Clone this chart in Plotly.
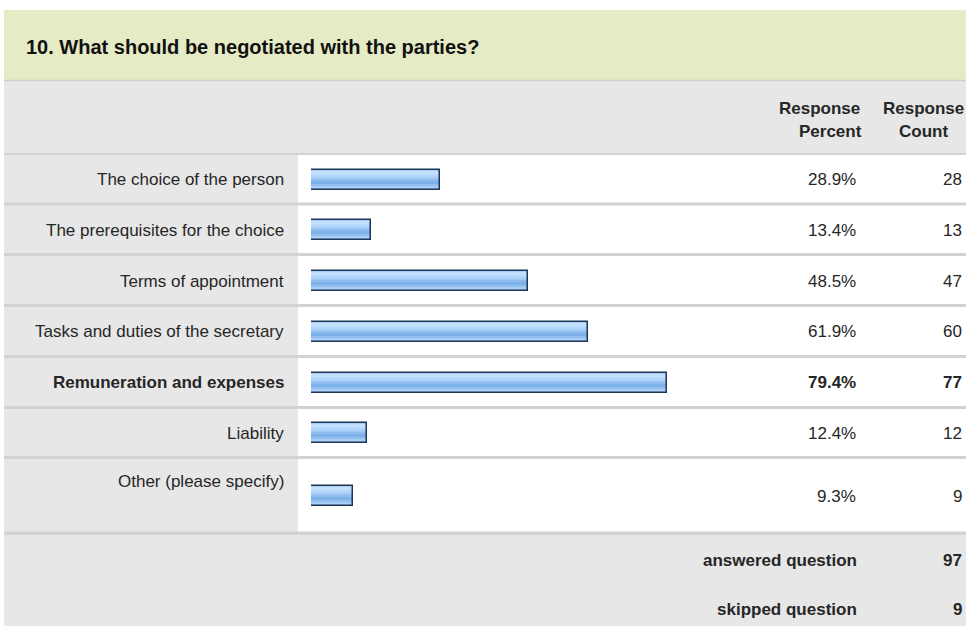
import plotly.graph_objects as go

# ---- data ----
answer_choices = [
    "The choice of the person",
    "The prerequisites for the choice",
    "Terms of appointment",
    "Tasks and duties of the secretary",
    "Remuneration and expenses",
    "Liability",
    "Other (please specify)",
]
response_percent = [28.9, 13.4, 48.5, 61.9, 79.4, 12.4, 9.3]
response_count = [28, 13, 47, 60, 77, 12, 9]
bold_rows = [False, False, False, False, True, False, False]
question_title = "10. What should be negotiated with the parties?"
answered_question = 97
skipped_question = 9

# ---- layout constants (pixels) ----
W, H = 966, 626
ROW_CENTERS = [179.5, 230, 281, 331.5, 382.5, 433, 496]
LABEL_Y = [179.5, 230, 281, 331.5, 382.5, 433, 481]
SEPARATORS = [204, 254.5, 305.5, 356.5, 407.5, 457.5]
FONT = "Arial, Liberation Sans, sans-serif"
FS = 17
TXT = "#262626"
GRAY = "#e7e7e7"
LINE = "#d2d2d2"
# gradient bands inside each bar: (offset from centre, thickness, colour)
BAR_BANDS = [
    (-10, 20, "#a8cff7"),
    (-9, 3.5, "#c4e0ff"),
    (-6, 3.5, "#b6d7fd"),
    (-3, 2.5, "#a3cbf6"),
    (-1, 2.5, "#8fbcef"),
    (1, 3.5, "#7fb1e9"),
    (4, 2.5, "#92bef0"),
    (6, 3, "#a6cdf6"),
]


def px(x):
    return x / W


fig = go.Figure()

for off, th, col in BAR_BANDS:
    fig.add_trace(go.Bar(
        x=response_percent, y=ROW_CENTERS, orientation="h", width=th, offset=off,
        marker=dict(color=col, line=dict(width=0)), hoverinfo="skip",
    ))
# outline
fig.add_trace(go.Bar(
    x=response_percent, y=ROW_CENTERS, orientation="h", width=20,
    marker=dict(color="rgba(0,0,0,0)", line=dict(width=1.5, color="#1d3656")),
    hoverinfo="skip",
))

shapes = []
shapes.append(dict(type="rect", xref="paper", yref="y", x0=px(4), x1=1, y0=10, y1=80,
                   fillcolor="#e5ebc4", line=dict(width=0), layer="below"))
shapes.append(dict(type="rect", xref="paper", yref="y", x0=px(4), x1=1, y0=81, y1=153,
                   fillcolor=GRAY, line=dict(width=0), layer="below"))
shapes.append(dict(type="line", xref="paper", yref="y", x0=px(4), x1=1, y0=80.5, y1=80.5,
                   line=dict(width=1.5, color="#cdcdcd"), layer="below"))
shapes.append(dict(type="line", xref="paper", yref="y", x0=px(4), x1=1, y0=154, y1=154,
                   line=dict(width=2, color=LINE), layer="below"))
shapes.append(dict(type="rect", xref="paper", yref="y", x0=px(4), x1=px(298), y0=155, y1=532,
                   fillcolor=GRAY, line=dict(width=0), layer="below"))
for sy in SEPARATORS:
    shapes.append(dict(type="line", xref="paper", yref="y", x0=px(4), x1=1, y0=sy, y1=sy,
                       line=dict(width=3, color=LINE), layer="below"))
shapes.append(dict(type="line", xref="paper", yref="y", x0=px(4), x1=1, y0=533.5, y1=533.5,
                   line=dict(width=4, color=LINE), layer="below"))
shapes.append(dict(type="rect", xref="paper", yref="y", x0=px(4), x1=1, y0=535.5, y1=626,
                   fillcolor=GRAY, line=dict(width=0), layer="below"))


def text(s, x, y, anchor="right", size=FS, color=TXT):
    return dict(text=s, xref="paper", yref="y", x=px(x), y=y,
                xanchor=anchor, yanchor="middle", showarrow=False,
                font=dict(family=FONT, size=size, color=color))


ann = []
ann.append(text(f"<b>{question_title}</b>", 24, 47, anchor="left", size=20, color="#111111"))
ann.append(text("<b>Response</b>", 819, 108, anchor="center"))
ann.append(text("<b>Percent</b>", 830, 131, anchor="center"))
ann.append(text("<b>Response</b>", 923.5, 108, anchor="center"))
ann.append(text("<b>Count</b>", 923.5, 131, anchor="center"))

for lab, yl, yc, p, c, b in zip(answer_choices, LABEL_Y, ROW_CENTERS,
                                 response_percent, response_count, bold_rows):
    def fmt(s):
        return f"<b>{s}</b>" if b else s
    ann.append(text(fmt(lab), 286, yl))
    ann.append(text(fmt(f"{p:.1f}%"), 858, yc))
    ann.append(text(fmt(str(c)), 964, yc))

ann.append(text("<b>answered question</b>", 859, 560.5))
ann.append(text(f"<b>{answered_question}</b>", 964, 560.5))
ann.append(text("<b>skipped question</b>", 859, 609))
ann.append(text(f"<b>{skipped_question}</b>", 964, 609))

fig.update_layout(
    width=W, height=H,
    margin=dict(l=0, r=0, t=0, b=0, pad=0),
    paper_bgcolor="white", plot_bgcolor="rgba(0,0,0,0)",
    showlegend=False, barmode="overlay", bargap=0,
    xaxis=dict(domain=[px(311), px(759)], range=[0, 100], visible=False, fixedrange=True),
    yaxis=dict(domain=[0, 1], range=[H, 0], visible=False, fixedrange=True),
    shapes=shapes, annotations=ann,
)

fig.write_html(
    "out.html",
    config={"displayModeBar": False},
    post_script="document.body.style.margin='0px';document.body.style.overflow='hidden';",
)
